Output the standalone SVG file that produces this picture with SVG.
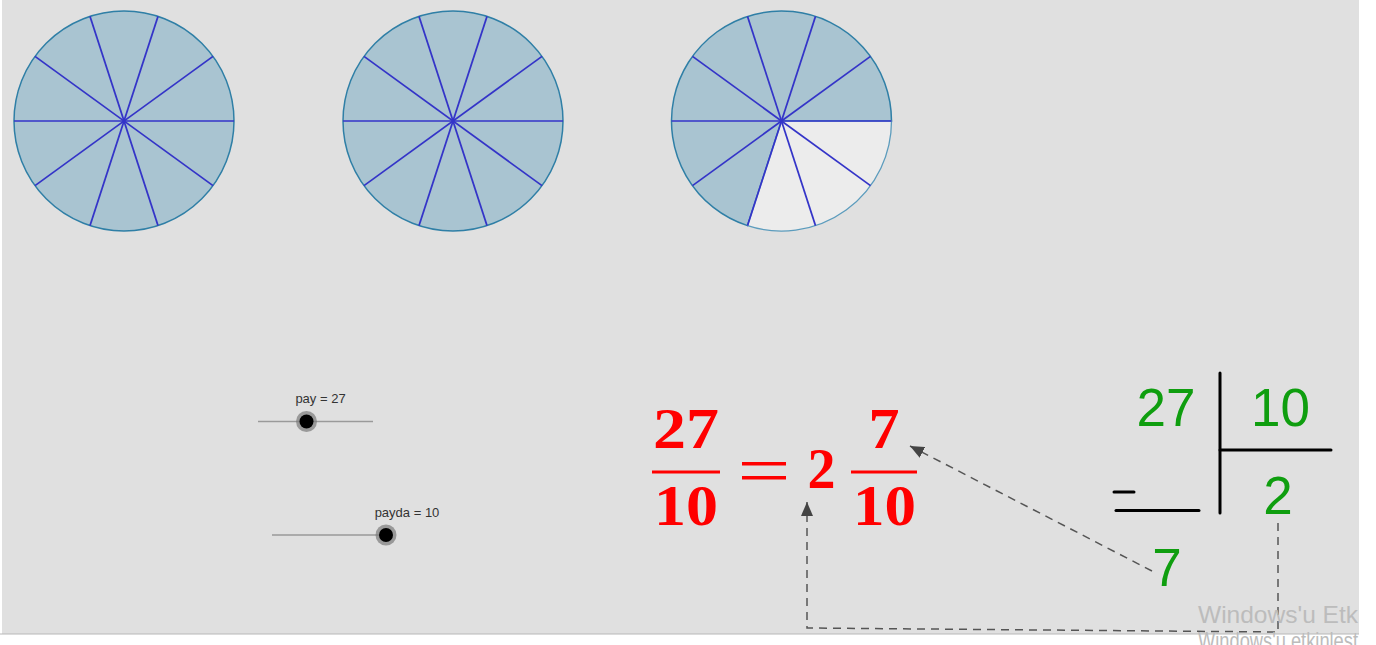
<svg xmlns="http://www.w3.org/2000/svg" width="1376" height="645" viewBox="0 0 1376 645">
<defs>
<style>
.sec{fill:#a9c4d1;stroke:#2f7fa6;stroke-width:1.5}
.spoke{stroke:#3434c8;stroke-width:1.7;fill:none}
.slab{font-family:"Liberation Sans",Arial,sans-serif;font-size:13px;fill:#333}
.track{stroke:#9a9a9a;stroke-width:1.5}
.frac{font-family:"Liberation Serif","Times New Roman",serif;font-weight:bold;font-size:58px;fill:#ff0000;text-anchor:middle}
.grn{font-family:"Liberation Sans",Arial,sans-serif;font-size:53px;fill:#0f9e0f;text-anchor:middle}
.blk{stroke:#000;stroke-width:3;stroke-linecap:round}
.dash{stroke:#555;stroke-width:1.5;stroke-dasharray:8,6;fill:none}
.wm{font-family:"Liberation Sans",Arial,sans-serif;font-size:24.5px;fill:#bcbcbc}
</style>
<marker id="ah" viewBox="0 0 14 12" refX="14" refY="6" markerWidth="14" markerHeight="12" markerUnits="userSpaceOnUse" orient="auto">
<path d="M0,0 L14,6 L0,12 z" fill="#444"/>
</marker>
<g id="spokes">
<line x1="-110" y1="0" x2="110" y2="0"/>
<line x1="-89" y1="64.66" x2="89" y2="-64.66"/>
<line x1="-34" y1="104.62" x2="34" y2="-104.62"/>
<line x1="34" y1="104.62" x2="-34" y2="-104.62"/>
<line x1="89" y1="64.66" x2="-89" y2="-64.66"/>
</g>
</defs>
<rect x="0" y="0" width="1376" height="645" fill="#ffffff"/>
<rect x="2" y="0" width="1357" height="634" fill="#e0e0e0"/>
<line x1="0" y1="634" x2="1359" y2="634" stroke="#b8b8b8" stroke-width="1"/>

<g id="circle1">
<circle cx="124" cy="121" r="110" class="sec"/>
<use href="#spokes" transform="translate(124,121)" class="spoke"/>
</g>
<g id="circle2">
<circle cx="453" cy="121" r="110" class="sec"/>
<use href="#spokes" transform="translate(453,121)" class="spoke"/>
</g>
<g id="circle3">
<path d="M781.5,121 L891.5,121 A110,110 0 1 0 747.5,225.62 Z" class="sec"/>
<path d="M781.5,121 L747.5,225.62 A110,110 0 0 0 891.5,121 Z" fill="#ececec" stroke="#5c9cbd" stroke-width="1.3"/>
<use href="#spokes" transform="translate(781.5,121)" class="spoke"/>
</g>

<g id="slider-pay">
<line x1="258" y1="421.5" x2="373" y2="421.5" class="track"/>
<circle cx="306.5" cy="421.5" r="10.5" fill="#7a7a7a" opacity="0.7"/>
<circle cx="306.5" cy="421.5" r="7" fill="#000"/>
<text x="320.5" y="403" class="slab" text-anchor="middle">pay = 27</text>
</g>
<g id="slider-payda">
<line x1="272" y1="535" x2="386" y2="535" class="track"/>
<circle cx="386" cy="535" r="10.5" fill="#7a7a7a" opacity="0.7"/>
<circle cx="386" cy="535" r="7" fill="#000"/>
<text x="407" y="517" class="slab" text-anchor="middle">payda = 10</text>
</g>

<g id="equation">
<text x="686" y="448" class="frac" textLength="66" lengthAdjust="spacingAndGlyphs">27</text>
<rect x="652" y="470.5" width="68" height="3" fill="#ff0000"/>
<text x="686" y="525" class="frac" textLength="64" lengthAdjust="spacingAndGlyphs">10</text>
<rect x="742" y="462" width="44" height="3.5" fill="#ff0000"/>
<rect x="742" y="476" width="44" height="3.5" fill="#ff0000"/>
<text x="821.5" y="488" class="frac" textLength="28" lengthAdjust="spacingAndGlyphs">2</text>
<text x="884" y="448" class="frac" textLength="31" lengthAdjust="spacingAndGlyphs">7</text>
<rect x="851" y="470.5" width="66" height="3" fill="#ff0000"/>
<text x="884.5" y="525" class="frac" textLength="63" lengthAdjust="spacingAndGlyphs">10</text>
</g>

<g id="division">
<text x="1166" y="426" class="grn">27</text>
<text x="1280.5" y="426" class="grn">10</text>
<line x1="1220" y1="373" x2="1220" y2="513" class="blk"/>
<line x1="1220" y1="450" x2="1331" y2="450" class="blk"/>
<text x="1278" y="514" class="grn">2</text>
<line x1="1114" y1="492" x2="1134" y2="492" class="blk"/>
<line x1="1116" y1="510.5" x2="1199" y2="510.5" class="blk"/>
<text x="1167" y="586" class="grn">7</text>
</g>

<g id="connectors">
<line x1="1152" y1="571" x2="910" y2="446" class="dash" marker-end="url(#ah)"/>
<polyline points="1278,523 1278,632 807,628 807,502" class="dash" marker-end="url(#ah)"/>
</g>

<g id="watermark">
<text x="1198" y="623" class="wm" textLength="160" lengthAdjust="spacingAndGlyphs">Windows'u Etk</text>
<text x="1198" y="649" class="wm" font-size="18" textLength="160" lengthAdjust="spacingAndGlyphs">Windows'u etkinleşt</text>
</g>
</svg>
